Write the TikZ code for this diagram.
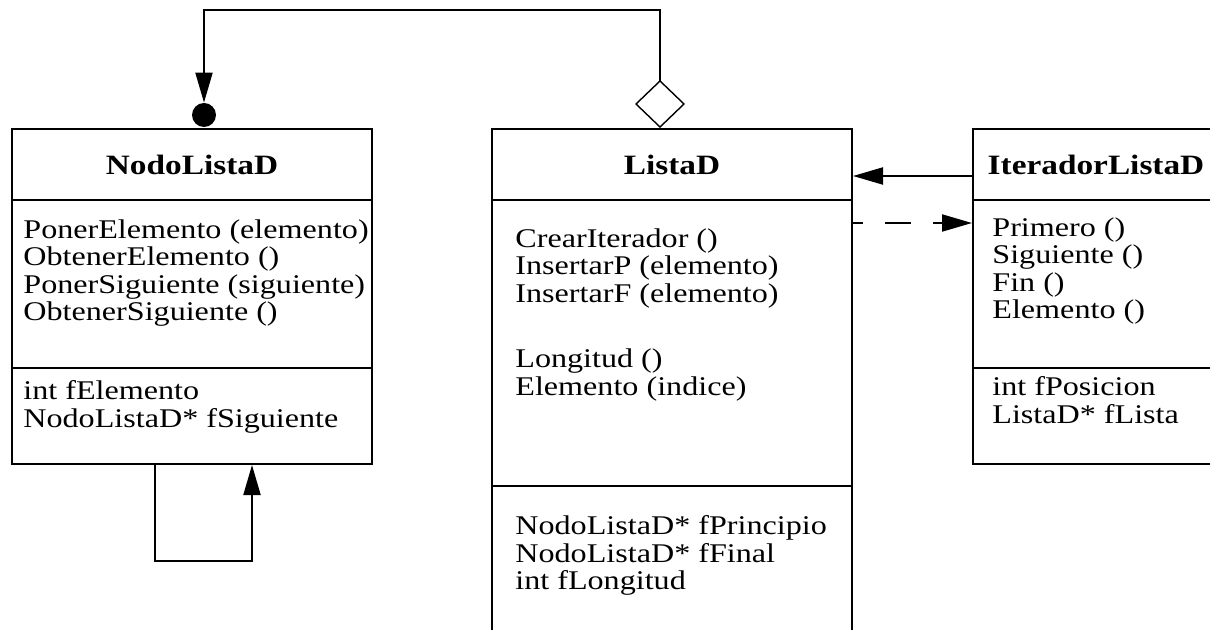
\documentclass[tikz,border=0pt]{standalone}
\usepackage{fontspec}
\setmainfont{Liberation Serif}[FakeStretch=1.19]
\usepackage{tikz}
\usetikzlibrary{arrows.meta,calc}

\tikzset{
  classbox/.style={draw, line width=1pt, rectangle, anchor=north west, inner sep=0pt},
  classname/.style={font=\fontsize{14}{14}\selectfont\bfseries, inner sep=0pt},
  members/.style={font=\fontsize{13.5}{13.8}\selectfont, align=left, anchor=north west, inner sep=0pt},
  link/.style={line width=1pt, -{Triangle[length=15pt,width=8.5pt]}},
}

\begin{document}
\begin{tikzpicture}[x=0.5pt, y=-0.5pt] % one unit is one pixel, y runs downwards
  \clip (0,0) rectangle (1210,630);

  % The three class boxes
  \node[classbox, minimum width=180pt, minimum height=167.5pt] (nodo) at (11,128) {};
  \node[classbox, minimum width=180pt, minimum height=266pt] (lista) at (491,128) {};
  \node[classbox, minimum width=123pt, minimum height=167.5pt] (iter) at (972,128) {};

  % Compartment lines (distance below the top edge)
  \foreach \cls/\down in {nodo/36pt, nodo/120pt, lista/36pt, lista/179pt, iter/36pt, iter/120pt}
    \draw[line width=1pt] ([yshift=-\down]\cls.north west) -- ([yshift=-\down]\cls.north east);

  % Class names
  \node[classname] (nodoName) at ($(nodo.north)+(0,37)$) {NodoListaD};
  \node[classname] (listaName) at ($(lista.north)+(0,37)$) {ListaD};
  \node[classname] (iterName) at ($(iter.north)+(0,37)$) {IteradorListaD};

  % Operations
  \node[members] (nodoOps) at (23,219) {PonerElemento (elemento)\\ObtenerElemento ()\\PonerSiguiente (siguiente)\\ObtenerSiguiente ()};
  \node[members] (listaOps) at (515,228) {CrearIterador ()\\InsertarP (elemento)\\InsertarF (elemento)\\[19pt]Longitud ()\\Elemento (indice)};
  \node[members] (iterOps) at (992,217) {Primero ()\\Siguiente ()\\Fin ()\\Elemento ()};

  % Attributes
  \node[members] (nodoAttr) at (23,380) {int fElemento\\NodoListaD* fSiguiente};
  \node[members] (listaAttr) at (515,515) {NodoListaD* fPrincipio\\NodoListaD* fFinal\\int fLongitud};
  \node[members] (iterAttr) at (992,376) {int fPosicion\\ListaD* fLista};

  % ListaD holds NodoListaD
  \coordinate (aggStart) at ($(lista.north)+(-12,0)$);
  \node[circle, fill, inner sep=0pt, minimum size=12pt] (dot) at ($(nodo.north)+(12,-13)$) {};
  \draw[line width=1pt, {Diamond[open,length=24pt,width=25pt,line width=0.7pt]}-{Triangle[length=15pt,width=8.5pt]}]
    (aggStart) -- ++(0,-118) -| (dot.north);

  % NodoListaD points to the next node
  \coordinate (loopOut) at ($(nodo.south)+(-37,0)$);
  \coordinate (loopIn) at ($(nodo.south)+(60,0)$);
  \draw[link] (loopOut) -- ++(0,96) -| (loopIn);

  % Iterator and list
  \draw[link] ($(iter.north west)+(0,48)$) -- ($(lista.north east)+(0,48)$);
  \draw[link, dash pattern=on 13pt off 11pt, dash phase=8pt] ($(lista.north east)+(0,95)$) -- ($(iter.north west)+(0,95)$);
\end{tikzpicture}
\end{document}
